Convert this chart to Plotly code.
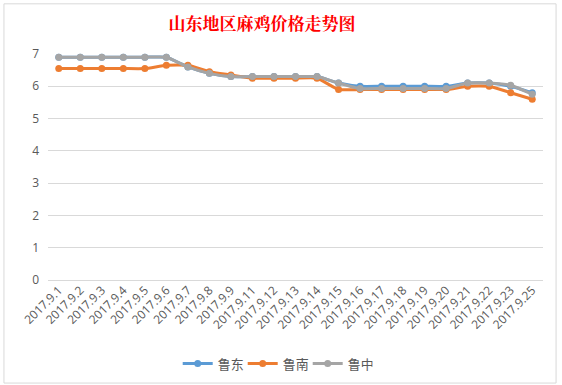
import plotly.graph_objects as go

dates = ["2017.9.1", "2017.9.2", "2017.9.3", "2017.9.4", "2017.9.5", "2017.9.6",
         "2017.9.7", "2017.9.8", "2017.9.9", "2017.9.11", "2017.9.12", "2017.9.13",
         "2017.9.14", "2017.9.15", "2017.9.16", "2017.9.17", "2017.9.18", "2017.9.19",
         "2017.9.20", "2017.9.21", "2017.9.22", "2017.9.23", "2017.9.25"]
ludong = [6.9, 6.9, 6.9, 6.9, 6.9, 6.9, 6.6, 6.4, 6.3, 6.3, 6.3, 6.3,
          6.3, 6.1, 6.0, 6.0, 6.0, 6.0, 6.0, 6.1, 6.1, 6.0, 5.8]
lunan = [6.55, 6.55, 6.55, 6.55, 6.55, 6.65, 6.65, 6.45, 6.35, 6.25, 6.25, 6.25,
         6.25, 5.9, 5.9, 5.9, 5.9, 5.9, 5.9, 6.0, 6.0, 5.8, 5.6]
luzhong = [6.9, 6.9, 6.9, 6.9, 6.9, 6.9, 6.6, 6.4, 6.3, 6.3, 6.3, 6.3,
           6.3, 6.1, 5.93, 5.93, 5.93, 5.93, 5.93, 6.1, 6.1, 6.03, 5.75]

series = [("鲁东", ludong, "#5B9BD5"), ("鲁南", lunan, "#ED7D31"), ("鲁中", luzhong, "#A5A5A5")]

fig = go.Figure()
for name, vals, color in series:
    fig.add_trace(go.Scatter(
        x=dates, y=vals, name=name, mode="lines+markers",
        line=dict(color=color, width=3, shape="spline", smoothing=0.5),
        marker=dict(color=color, size=7),
        cliponaxis=False,
    ))

fig.update_layout(
    width=562, height=385,
    margin=dict(l=48, r=19, t=54, b=105, autoexpand=False),
    paper_bgcolor="white", plot_bgcolor="white",
    title=dict(text="<b>山东地区麻鸡价格走势图</b>", x=0.466, xanchor="center",
               y=0.938, yanchor="middle",
               font=dict(family="Noto Serif CJK SC, Noto Sans CJK SC", size=17, color="#FF0000")),
    font=dict(family="Open Sans, Noto Sans CJK SC", color="#595959"),
    showlegend=True,
    legend=dict(orientation="h", x=0.459, xanchor="center", y=-0.37, yanchor="middle",
                font=dict(size=13, family="Noto Sans CJK SC", color="#595959"),
                itemwidth=30, entrywidth=20, entrywidthmode="pixels", tracegroupgap=0),
    xaxis=dict(type="category", range=[-0.5, len(dates) - 0.5], tickangle=-45,
               tickfont=dict(size=12, color="#595959"),
               showgrid=False, showline=False, ticks="", zeroline=False, automargin=False),
    yaxis=dict(range=[0, 7], dtick=1, tickfont=dict(size=12, color="#595959"),
               gridcolor="#D9D9D9", gridwidth=1, zeroline=True, zerolinecolor="#D9D9D9",
               zerolinewidth=1, showline=False, automargin=False,
               ticks="", ticklabelstandoff=8),
    shapes=[dict(type="rect", xref="paper", yref="paper", x0=-0.089, x1=1.0264,
                 y0=-0.456, y1=1.222, line=dict(color="#D9D9D9", width=1))],
)

fig.write_html("out.html", config={"displayModeBar": False},
               post_script="document.body.style.margin='0';")
